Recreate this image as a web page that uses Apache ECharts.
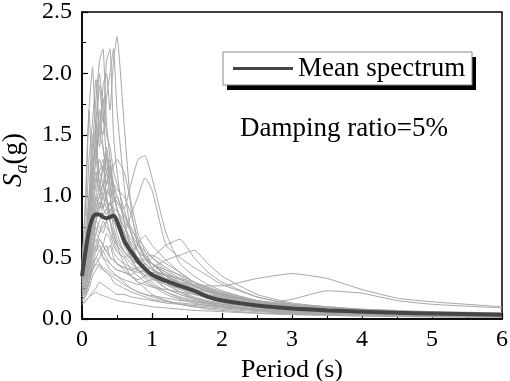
<!DOCTYPE html>
<html>
<head>
<meta charset="utf-8">
<script src="https://cdn.jsdelivr.net/npm/echarts@6/dist/echarts.min.js"></script>
<style>
  html, body { margin: 0; padding: 0; background: #fff; }
  #chart { width: 510px; height: 381px; }
</style>
</head>
<body>
<div id="chart"></div>
<script>
// periods (s)
const periods = [0, 0.05, 0.1, 0.15, 0.2, 0.25, 0.3, 0.35, 0.4, 0.45, 0.5, 0.6, 0.7, 0.8, 0.9, 1.0,
  1.2, 1.4, 1.6, 1.8, 2.0, 2.5, 3.0, 3.5, 4.0, 4.5, 5.0, 6.0]

// individual record spectra Sa(g)
const records = [
  [0.40,0.55,0.9,1.3,1.6,1.4,1.9,2.0,1.7,2.1,2.3,1.6,0.9,0.6,0.5,0.42,0.3,0.22,0.17,0.14,0.12,0.08,0.06,0.05,0.04,0.035,0.03,0.025],
  [0.35,0.5,0.8,1.2,1.5,1.9,1.6,2.1,2.2,1.5,1.2,0.8,0.55,0.45,0.38,0.33,0.25,0.2,0.16,0.13,0.1,0.07,0.05,0.04,0.035,0.03,0.025,0.02],
  [0.45,0.9,1.7,2.05,1.5,1.2,1.3,1.0,0.8,0.7,0.6,0.45,0.35,0.3,0.25,0.2,0.15,0.12,0.1,0.08,0.07,0.05,0.04,0.03,0.025,0.02,0.018,0.015],
  [0.38,0.6,1.0,1.4,1.8,2.1,2.2,1.6,1.3,1.1,0.9,0.7,0.5,0.4,0.35,0.3,0.22,0.17,0.14,0.12,0.1,0.07,0.05,0.04,0.035,0.03,0.025,0.02],
  [0.30,0.4,0.6,0.8,1.0,1.2,1.1,1.3,1.2,1.0,0.95,0.9,1.1,1.3,1.33,1.15,0.7,0.45,0.35,0.28,0.23,0.15,0.11,0.09,0.07,0.06,0.05,0.04],
  [0.28,0.35,0.5,0.7,0.9,1.0,0.9,0.85,0.95,0.8,0.75,0.7,0.85,1.0,1.15,1.05,0.6,0.5,0.42,0.35,0.28,0.18,0.12,0.09,0.07,0.06,0.05,0.04],
  [0.20,0.25,0.35,0.5,0.6,0.55,0.6,0.7,0.65,0.55,0.5,0.45,0.42,0.4,0.38,0.35,0.33,0.3,0.28,0.27,0.27,0.33,0.37,0.33,0.24,0.17,0.14,0.10],
  [0.18,0.22,0.3,0.4,0.45,0.42,0.4,0.38,0.36,0.34,0.32,0.28,0.25,0.22,0.2,0.19,0.17,0.15,0.14,0.13,0.12,0.12,0.16,0.23,0.21,0.15,0.12,0.09],
  [0.15,0.2,0.3,0.45,0.55,0.6,0.5,0.45,0.4,0.38,0.35,0.3,0.25,0.22,0.2,0.18,0.15,0.12,0.1,0.09,0.08,0.06,0.045,0.035,0.03,0.025,0.02,0.015],
  [0.12,0.15,0.18,0.22,0.25,0.3,0.28,0.26,0.24,0.22,0.2,0.2,0.18,0.17,0.16,0.15,0.13,0.12,0.11,0.1,0.09,0.07,0.05,0.04,0.035,0.03,0.025,0.02],
  [0.42,1.0,1.7,1.2,1.4,1.1,0.9,1.0,0.8,0.65,0.55,0.5,0.4,0.35,0.3,0.27,0.2,0.16,0.13,0.11,0.1,0.07,0.05,0.04,0.035,0.03,0.025,0.02],
  [0.40,0.7,1.3,1.6,1.95,1.5,1.4,1.2,1.0,0.85,0.7,0.55,0.48,0.4,0.33,0.28,0.22,0.18,0.15,0.13,0.11,0.08,0.06,0.05,0.04,0.035,0.03,0.025],
  [0.33,0.5,0.8,1.1,1.3,1.6,1.5,1.8,2.0,2.2,1.7,1.1,0.7,0.55,0.45,0.4,0.3,0.24,0.2,0.17,0.15,0.1,0.07,0.055,0.045,0.04,0.035,0.03],
  [0.30,0.45,0.7,1.1,1.6,2.0,1.7,1.3,1.1,0.9,0.8,0.6,0.5,0.45,0.4,0.35,0.25,0.2,0.17,0.14,0.12,0.08,0.06,0.05,0.04,0.035,0.03,0.025],
  [0.25,0.35,0.5,0.7,0.8,0.9,1.0,1.1,1.25,1.0,0.9,0.75,0.65,0.55,0.5,0.45,0.38,0.3,0.25,0.2,0.17,0.12,0.09,0.07,0.06,0.05,0.04,0.035],
  [0.22,0.3,0.45,0.6,0.75,0.7,0.8,0.75,0.7,0.6,0.55,0.5,0.55,0.6,0.55,0.5,0.42,0.35,0.28,0.22,0.18,0.12,0.08,0.06,0.05,0.04,0.035,0.03],
  [0.18,0.25,0.4,0.55,0.7,0.65,0.6,0.55,0.5,0.48,0.45,0.4,0.35,0.3,0.28,0.26,0.24,0.22,0.2,0.18,0.16,0.12,0.09,0.07,0.06,0.05,0.04,0.035],
  [0.35,0.45,0.7,0.9,1.1,1.3,1.2,1.4,1.2,1.1,1.0,0.85,0.7,0.6,0.5,0.42,0.32,0.26,0.22,0.19,0.16,0.11,0.08,0.06,0.05,0.04,0.035,0.03],
  [0.30,0.4,0.6,0.85,1.0,0.9,1.05,1.2,1.0,0.85,0.75,0.65,0.6,0.5,0.45,0.4,0.35,0.3,0.26,0.22,0.19,0.13,0.1,0.08,0.065,0.055,0.045,0.04],
  [0.28,0.35,0.55,0.7,0.8,0.75,0.7,0.8,0.9,0.75,0.65,0.55,0.48,0.45,0.5,0.52,0.45,0.38,0.3,0.24,0.2,0.13,0.09,0.07,0.055,0.045,0.04,0.03],
  [0.14,0.18,0.25,0.35,0.4,0.45,0.42,0.4,0.38,0.36,0.35,0.32,0.3,0.28,0.3,0.32,0.3,0.27,0.24,0.22,0.2,0.15,0.11,0.08,0.065,0.055,0.045,0.035],
  [0.20,0.3,0.45,0.6,0.55,0.65,0.6,0.55,0.6,0.5,0.45,0.42,0.4,0.42,0.45,0.4,0.36,0.33,0.3,0.26,0.22,0.15,0.1,0.08,0.06,0.05,0.04,0.035],
  [0.38,0.55,0.9,1.2,1.4,1.7,1.4,1.2,1.3,1.0,0.9,0.7,0.55,0.45,0.4,0.35,0.28,0.22,0.18,0.15,0.13,0.09,0.07,0.05,0.045,0.04,0.035,0.03],
  [0.32,0.45,0.7,1.0,1.2,1.0,1.1,0.95,0.85,0.8,0.75,0.65,0.55,0.5,0.48,0.45,0.4,0.36,0.3,0.25,0.21,0.14,0.1,0.08,0.06,0.05,0.045,0.04],
  [0.16,0.2,0.3,0.4,0.5,0.45,0.4,0.38,0.35,0.3,0.28,0.25,0.22,0.2,0.18,0.16,0.14,0.13,0.12,0.11,0.1,0.08,0.06,0.05,0.04,0.035,0.03,0.025],
  [0.12,0.14,0.18,0.2,0.22,0.2,0.19,0.18,0.17,0.16,0.15,0.14,0.13,0.12,0.11,0.1,0.09,0.08,0.07,0.065,0.06,0.045,0.035,0.03,0.025,0.02,0.018,0.015],
  [0.40,0.6,1.0,1.5,1.3,1.6,1.8,1.5,1.4,1.2,1.1,0.9,0.7,0.55,0.5,0.45,0.35,0.28,0.22,0.18,0.15,0.1,0.07,0.055,0.045,0.04,0.035,0.03],
  [0.26,0.35,0.5,0.65,0.8,0.95,0.85,0.9,0.8,0.7,0.62,0.55,0.5,0.62,0.68,0.6,0.48,0.38,0.3,0.25,0.21,0.14,0.1,0.08,0.065,0.055,0.045,0.04],
  [0.22,0.28,0.4,0.5,0.6,0.7,0.75,0.8,0.7,0.65,0.6,0.52,0.45,0.4,0.36,0.33,0.28,0.25,0.22,0.2,0.18,0.14,0.11,0.09,0.07,0.06,0.05,0.04],
  [0.36,0.5,0.75,1.0,1.3,1.1,1.2,1.35,1.1,0.95,1.0,0.8,0.6,0.48,0.4,0.36,0.3,0.25,0.21,0.18,0.16,0.11,0.08,0.065,0.05,0.045,0.04,0.035],
  [0.18,0.22,0.3,0.4,0.45,0.5,0.55,0.5,0.45,0.42,0.4,0.38,0.35,0.32,0.35,0.38,0.36,0.32,0.28,0.24,0.2,0.14,0.1,0.08,0.065,0.055,0.045,0.04],
  [0.30,0.42,0.6,0.8,0.95,1.05,1.0,0.9,0.95,0.85,0.8,0.7,0.62,0.55,0.5,0.45,0.38,0.32,0.27,0.23,0.2,0.15,0.12,0.1,0.08,0.07,0.06,0.05],
  [0.20,0.25,0.35,0.45,0.5,0.55,0.5,0.48,0.45,0.42,0.4,0.38,0.36,0.4,0.45,0.5,0.6,0.65,0.5,0.38,0.3,0.18,0.12,0.09,0.07,0.06,0.05,0.04],
  [0.24,0.3,0.45,0.55,0.65,0.6,0.55,0.6,0.5,0.48,0.45,0.42,0.4,0.38,0.4,0.42,0.48,0.52,0.56,0.45,0.35,0.2,0.13,0.1,0.08,0.065,0.055,0.045],
  [0.30,0.4,0.6,0.8,0.9,1.0,1.1,1.0,1.15,1.25,1.3,1.2,0.95,0.7,0.55,0.45,0.35,0.28,0.23,0.19,0.16,0.11,0.08,0.065,0.05,0.045,0.04,0.035],
  [0.27,0.38,0.55,0.75,0.85,0.95,0.9,1.05,1.0,1.1,1.05,1.0,0.85,0.65,0.5,0.42,0.33,0.27,0.22,0.18,0.15,0.1,0.075,0.06,0.05,0.04,0.035,0.03],
  [0.33,0.45,0.65,0.9,1.15,1.05,1.25,1.1,1.2,1.0,0.95,0.85,0.75,0.62,0.52,0.45,0.36,0.29,0.24,0.2,0.17,0.12,0.09,0.07,0.055,0.045,0.04,0.035],
  [0.24,0.3,0.45,0.6,0.7,0.8,0.85,0.9,0.95,0.9,0.88,0.8,0.72,0.65,0.58,0.5,0.4,0.33,0.27,0.23,0.19,0.13,0.1,0.08,0.065,0.055,0.045,0.04]
]

// mean spectrum
const meanSpectrum = [0.35,0.55,0.72,0.82,0.85,0.85,0.83,0.82,0.83,0.84,0.8,0.64,0.55,0.47,0.41,0.36,
  0.31,0.27,0.23,0.18,0.15,0.11,0.085,0.07,0.06,0.05,0.045,0.035]

const xTicks = [0, 1, 2, 3, 4, 5, 6]
const yTicks = [0.0, 0.5, 1.0, 1.5, 2.0, 2.5]

const font = '"Liberation Serif", "Times New Roman", serif'

const toPairs = vals => periods.map((p, i) => [p, vals[i]])

const chart = echarts.init(document.getElementById('chart'), null, { renderer: 'canvas' })

const series = records.map((r, i) => ({
  name: 'rec' + i,
  type: 'line',
  data: toPairs(r),
  showSymbol: false,
  silent: true,
  smooth: 0.15,
  lineStyle: { color: '#a8a8a8', width: 1 },
  z: 2
}))

series.push({
  name: 'Mean spectrum',
  type: 'line',
  data: toPairs(meanSpectrum),
  showSymbol: false,
  smooth: 0.3,
  lineStyle: { color: '#464646', width: 4 },
  itemStyle: { color: '#464646' },
  z: 5
})

const option = {
  animation: false,
  backgroundColor: '#fff',
  grid: {
    left: 82, right: 8, top: 12, bottom: 62,
    outerBoundsMode: 'none',
    show: true, borderColor: '#000', borderWidth: 1.5, backgroundColor: 'transparent'
  },
  xAxis: {
    type: 'value',
    min: xTicks[0], max: xTicks[xTicks.length - 1], interval: 1,
    name: 'Period (s)',
    nameLocation: 'middle',
    nameGap: 25,
    nameTextStyle: { fontFamily: font, fontSize: 26, color: '#000' },
    axisLine: { onZero: false, lineStyle: { color: '#000', width: 1.5 } },
    axisTick: { inside: true, length: 6, lineStyle: { color: '#000', width: 1.2 } },
    minorTick: { show: true, splitNumber: 2, length: 4, lineStyle: { color: '#000', width: 1 } },
    splitLine: { show: false },
    axisLabel: { fontFamily: font, fontSize: 24, color: '#000', margin: 9 }
  },
  yAxis: {
    type: 'value',
    min: yTicks[0], max: yTicks[yTicks.length - 1], interval: 0.5,
    axisLine: { show: true, onZero: false, lineStyle: { color: '#000', width: 1.5 } },
    axisTick: { show: true, inside: true, length: 6, lineStyle: { color: '#000', width: 1.2 } },
    minorTick: { show: true, splitNumber: 2, length: 4, lineStyle: { color: '#000', width: 1 } },
    splitLine: { show: false },
    axisLabel: {
      fontFamily: font, fontSize: 24, color: '#000', margin: 10,
      formatter: v => v.toFixed(1)
    }
  },
  legend: {
    data: [{ name: 'Mean spectrum', icon: 'rect' }],
    left: 223, top: 52,
    itemWidth: 60, itemHeight: 3, itemGap: 0, itemTextGap: 9,
    padding: [3, 5, 3, 10],
    textStyle: { fontFamily: font, fontSize: 27, color: '#000' },
    selectedMode: false,
    z: 6
  },
  graphic: [
    // legend frame with its black drop shadow
    {
      type: 'rect', z: 4, silent: true,
      shape: { x: 227, y: 57, width: 249, height: 33 },
      style: { fill: '#000' }
    },
    {
      type: 'rect', z: 5, silent: true,
      shape: { x: 223, y: 52, width: 249, height: 33 },
      style: { fill: '#fff', stroke: '#888', lineWidth: 1 }
    },
    {
      type: 'text', left: 240, top: 115, z: 6,
      style: { text: 'Damping ratio=5%', font: '27px ' + font, fill: '#000' }
    },
    {
      type: 'text', x: 14, y: 160, rotation: Math.PI / 2,
      style: {
        text: '{s|S}{a|a}{g|(g)}',
        align: 'center', verticalAlign: 'middle',
        rich: {
          s: { fontFamily: font, fontSize: 27, fontStyle: 'italic', fill: '#000', lineHeight: 34, verticalAlign: 'middle' },
          a: { fontFamily: font, fontSize: 18, fontStyle: 'italic', fill: '#000', lineHeight: 34, verticalAlign: 'bottom' },
          g: { fontFamily: font, fontSize: 27, fill: '#000', lineHeight: 34, verticalAlign: 'middle' }
        }
      }
    }
  ],
  series: series
}

chart.setOption(option)
</script>
</body>
</html>
